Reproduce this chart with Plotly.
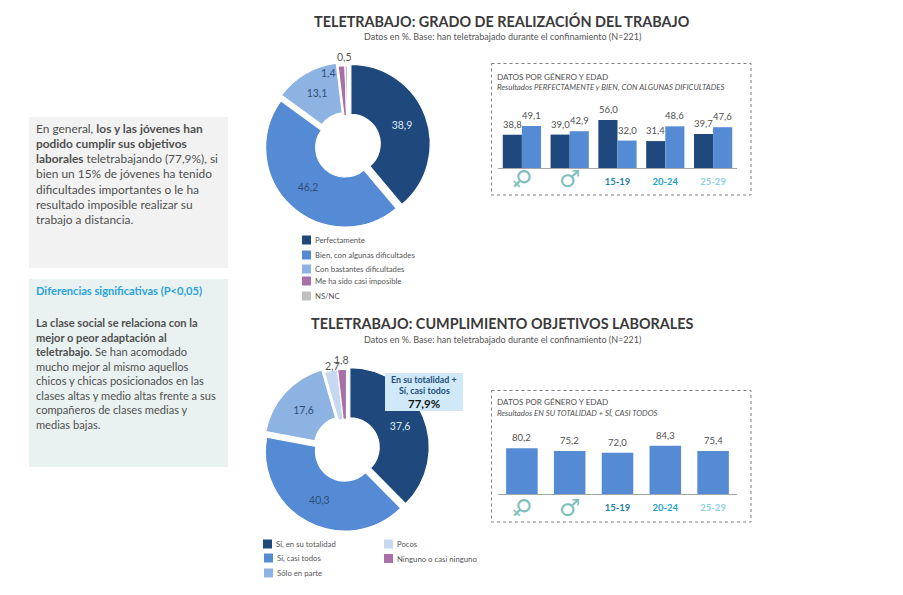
import plotly.graph_objects as go

W, H = 903, 595
FONT = "Lato"

# ---- data ----
pie1_labels = ["Perfectamente", "Bien, con algunas dificultades", "Con bastantes dificultades",
               "Me ha sido casi imposible", "NS/NC"]
pie1_values = [38.9, 46.2, 13.1, 1.4, 0.5]
pie1_colors = ["#1f497d", "#558bd5", "#8db3e2", "#a86fa8", "#c4bcc8"]

pie2_labels = ["Sí, en su totalidad", "Sí, casi todos", "Sólo en parte", "Pocos", "Ninguno o casi ninguno"]
pie2_values = [37.6, 40.3, 17.6, 2.7, 1.8]
pie2_colors = ["#1f497d", "#558bd5", "#8db3e2", "#c6d9f1", "#a86fa8"]

categories = ["♀", "♂", "15-19", "20-24", "25-29"]
cat_colors = ["#7fbfbc", "#7fbfbc", "#1f7fa8", "#22a3c9", "#8fd0e8"]
bar1_a = [38.8, 39.0, 56.0, 31.4, 39.7]
bar1_b = [49.1, 42.9, 32.0, 48.6, 47.6]
bar2 = [80.2, 75.2, 72.0, 84.3, 75.4]

para1 = ["En general, <b>los y las jóvenes han</b>", "<b>podido cumplir sus objetivos</b>",
         "<b>laborales</b> teletrabajando (77,9%), si", "bien un 15% de jóvenes ha tenido",
         "dificultades importantes o le ha", "resultado imposible realizar su", "trabajo a distancia."]
para2 = ["<b>La clase social se relaciona con la</b>", "<b>mejor o peor adaptación al</b>",
         "<b>teletrabajo</b>. Se han acomodado", "mucho mejor al mismo aquellos",
         "chicos y chicas posicionados en las", "clases altas y medio altas frente a sus",
         "compañeros de clases medias y", "medias bajas."]


def px(x):
    return x / W


def py(y):
    return 1 - y / H


def comma(v):
    return f"{v:.1f}".replace(".", ",")


def pie_text(vals):
    return [comma(v) if v > 5 else "" for v in vals]


fig = go.Figure()


def add_pie(labels, values, colors, cx, cy, r, pulls, txtcolors):
    fig.add_trace(go.Pie(
        labels=labels, values=values, sort=False, direction="clockwise", rotation=0,
        hole=0.37, pull=pulls, text=pie_text(values), textinfo="text", textposition="inside",
        insidetextorientation="horizontal", marker=dict(colors=colors, line=dict(color="white", width=1.2)),
        textfont=dict(family=FONT, size=10.5, color=txtcolors), showlegend=False, hoverinfo="label+value",
        domain=dict(x=[px(cx - r), px(cx + r)], y=[py(cy + r), py(cy - r)]),
    ))


add_pie(pie1_labels, pie1_values, pie1_colors, 347.5, 145, 83, [0.045, 0.045, 0.045, 0, 0],
        ["#dbe9f8", "#2f4f78", "#2f4f78", "#444", "#444"])
add_pie(pie2_labels, pie2_values, pie2_colors, 346.5, 448.5, 83, [0.045, 0.045, 0.045, 0, 0],
        ["#dbe9f8", "#2f4f78", "#2f4f78", "#444", "#444"])


def add_bars(xa, ya, series, colors):
    for vals, col in zip(series, colors):
        fig.add_trace(go.Bar(
            x=categories, y=vals, xaxis=xa, yaxis=ya, marker=dict(color=col, line=dict(width=0)),
            showlegend=False, hoverinfo="x+y"))


add_bars("x", "y", [bar1_a, bar1_b], ["#1f497d", "#558bd5"])
add_bars("x2", "y2", [bar2], ["#558bd5"])

ann = []
shapes = []


def text(x, y, s, size=10, color="#404040", anchor="left", bold=False, family=FONT):
    if bold:
        s = f"<b>{s}</b>"
    ann.append(dict(x=px(x), y=py(y), xref="paper", yref="paper",
                    text=s, showarrow=False, xanchor=anchor, yanchor="middle", align=anchor,
                    font=dict(family=family, size=size, color=color), borderpad=0, borderwidth=0))


def rect(x0, y0, x1, y1, fill=None, dash=None, line=None, layer="below"):
    shapes.append(dict(type="rect", xref="paper", yref="paper", x0=px(x0), x1=px(x1), y0=py(y0), y1=py(y1),
                       fillcolor=fill or "rgba(0,0,0,0)", layer=layer,
                       line=dict(color=line or "rgba(0,0,0,0)", width=1 if line else 0, dash=dash or "solid")))


# titles
text(502, 21, "TELETRABAJO: GRADO DE REALIZACIÓN DEL TRABAJO", 14.4, "#3a3a3a", "center", True)
text(502, 36.5, "Datos en %. Base: han teletrabajado durante el confinamiento (N=221)", 9, "#555555", "center")
text(502, 323, "TELETRABAJO: CUMPLIMIENTO OBJETIVOS LABORALES", 14.4, "#3a3a3a", "center", True)
text(502, 339, "Datos en %. Base: han teletrabajado durante el confinamiento (N=221)", 9, "#555555", "center")

# left text boxes
rect(29, 117, 228, 268, "#f2f2f2")
rect(29, 279, 228, 467, "#e9f2f0")
for line, y in zip(para1, [128.3, 143.3, 158.5, 173.5, 189, 204, 219]):
    text(36, y, line, 11.9, "#505050")
text(36, 290, "Diferencias significativas (P&lt;0,05)", 11.1, "#29a3dc", bold=True)
for line, y in zip(para2, [322.3, 337, 351.5, 366, 380.5, 395, 409.5, 424]):
    text(36, y, line, 11.1, "#505050")

# small slice labels
text(344, 57.5, comma(pie1_values[4]), 10.5, "#555555", "center")
text(328, 73, comma(pie1_values[3]), 10.5, "#2f4f78", "center")
text(341, 360, comma(pie2_values[4]), 10.5, "#555555", "center")
text(332, 366, comma(pie2_values[3]), 10.5, "#555555", "center")

# legends
leg1_y = [240, 255, 269, 281, 296]
for lab, col, y in zip(pie1_labels, pie1_colors[:4] + ["#bfbfbf"], leg1_y):
    rect(302, y - 4.5, 311, y + 4.5, col)
    text(314.5, y, lab, 7.75, "#555555")
leg2_pos = [(263, 544), (264, 558), (264, 573), (384, 544), (384, 558.5)]
for lab, col, (x, y) in zip(pie2_labels, pie2_colors, leg2_pos):
    rect(x, y - 4.5, x + 9, y + 4.5, col)
    text(x + 12.5, y, lab, 7.75, "#555555")

# callout
rect(385, 373, 463, 411, "#cfe9f9", layer="above")
text(424, 379, "En su totalidad +", 8.9, "#1f4e79", "center", True)
text(424, 390, "Sí, casi todos", 8.9, "#1f4e79", "center", True)
text(424, 403, "77,9%", 11.5, "#111111", "center", True)

# dashed boxes
rect(491.5, 63.5, 751, 195, None, "3px,3px", "#7f7f7f")
rect(491.5, 390.5, 751, 522, None, "3px,3px", "#7f7f7f")
text(497, 77, "DATOS POR GÉNERO Y EDAD", 8.15, "#505050")
text(497, 87, "<i>Resultados PERFECTAMENTE y BIEN, CON ALGUNAS DIFICULTADES</i>", 7.85, "#505050")
text(497, 402, "DATOS POR GÉNERO Y EDAD", 8.15, "#505050")
text(497, 413, "<i>Resultados EN SU TOTALIDAD + SÍ, CASI TODOS</i>", 7.85, "#505050")

# bar value labels: anchored to data via annotations
for c, a, b in zip(categories, bar1_a, bar1_b):
    for v, sh in ((a, -9.5), (b, 9.5)):
        ann.append(dict(x=c, y=v, xref="x", yref="y", text=comma(v), showarrow=False, xanchor="center",
                        yanchor="bottom", xshift=sh, yshift=3, font=dict(family=FONT, size=9.5, color="#505050")))
for c, v in zip(categories, bar2):
    ann.append(dict(x=c, y=v, xref="x2", yref="y2", text=comma(v), showarrow=False, xanchor="center",
                    yanchor="bottom", yshift=3, font=dict(family=FONT, size=9.5, color="#505050")))

# gender symbols
for xr, yc in (("x", 179), ("x2", 508)):
    for c, ang in ((categories[0], 45), (categories[1], 0)):
        ann.append(dict(x=c, y=py(yc), xref=xr, yref="paper", text=c, showarrow=False, xanchor="center", yanchor="middle",
                        textangle=ang, font=dict(family="DejaVu Sans", size=24, color="#7fbfbc")))

ticktext = ["", ""] + [f'<span style="color:{col}"><b>{c}</b></span>' for c, col in zip(categories[2:], cat_colors[2:])]
axis_x = dict(categoryorder="array", categoryarray=categories, tickmode="array", tickvals=categories, ticktext=ticktext,
              showline=True, linecolor="#a6a6a6", linewidth=1, ticks="", showgrid=False, zeroline=False,
              tickfont=dict(family=FONT, size=9.5), fixedrange=True, ticklen=0, ticklabelstandoff=5)
axis_y = dict(visible=False, showgrid=False, zeroline=False, fixedrange=True)

fig.update_layout(
    width=W, height=H, autosize=False, margin=dict(l=0, r=0, t=0, b=0),
    paper_bgcolor="white", plot_bgcolor="rgba(0,0,0,0)", font=dict(family=FONT),
    barmode="group", bargap=0.2, bargroupgap=0,
    xaxis=dict(axis_x, domain=[px(498), px(737)], anchor="y"),
    yaxis=dict(axis_y, domain=[py(168), py(108)], range=[0, 70], anchor="x"),
    xaxis2=dict(axis_x, domain=[px(498), px(737)], anchor="y2"),
    yaxis2=dict(axis_y, domain=[py(494), py(434)], range=[0, 105], anchor="x2"),
    shapes=shapes, annotations=ann,
)
# second chart has narrower bars
fig.data[4].update(width=0.66)

fig.write_html("out.html", config=dict(displayModeBar=False),
               post_script="document.body.style.margin='0';document.body.style.overflow='hidden';")
